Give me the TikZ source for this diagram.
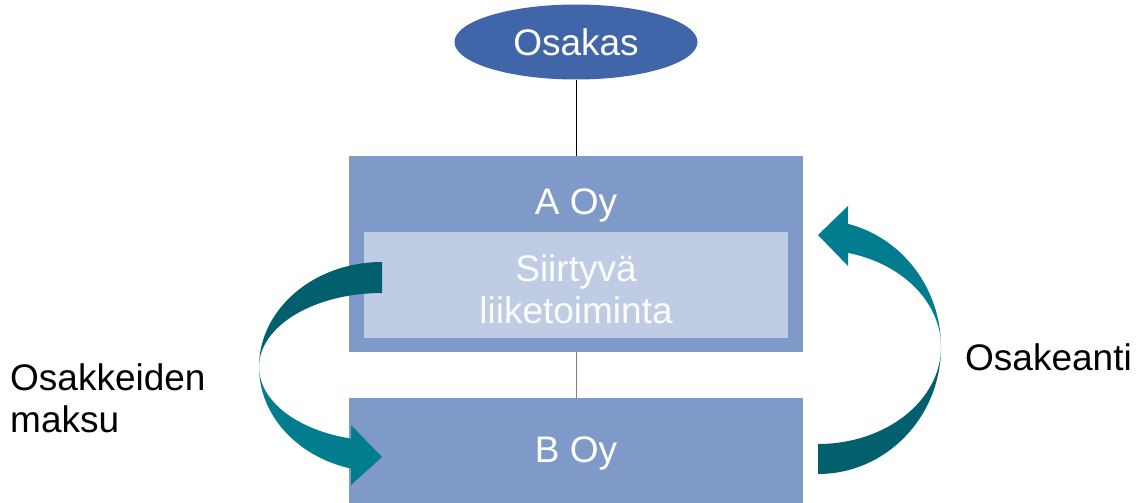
\documentclass[tikz,border=0pt]{standalone}
\usepackage{fontspec}
\setmainfont{Liberation Sans}
\usetikzlibrary{shapes.geometric}
\definecolor{ovalblue}{HTML}{4065A8}
\definecolor{boxblue}{HTML}{7F9AC8}
\definecolor{paleblue}{HTML}{BFCCE4}
\definecolor{tealdark}{HTML}{02606E}
\definecolor{teallight}{HTML}{027D8F}
\tikzset{
  bigtext/.style={font=\fontsize{37}{42}\selectfont},
  company/.style={fill=boxblue, draw=none, inner sep=0pt},
  boxtext/.style={bigtext, text=white, inner sep=0pt},
  sidetext/.style={bigtext, text=black, inner sep=0pt, align=left},
  link/.style={line width=0.9pt},
}
\begin{document}
\begin{tikzpicture}[x=1pt, y=-1pt]
\useasboundingbox (0,0) rectangle (1138,503);

% owner
\node[ellipse, fill=ovalblue, minimum width=243pt, minimum height=75pt, inner sep=0pt,
      bigtext, text=white] (osakas) at (576,42) {Osakas};

% companies
\node[company, minimum width=454pt, minimum height=196pt] (aoy) at (576,254) {};
\node[company, minimum width=454pt, minimum height=105pt] (boy) at (576,450.5) {};
\node[fill=paleblue, inner sep=0pt, minimum width=424pt, minimum height=106pt] (siirto) at (576,285) {};

% ownership lines
\draw[link, black] (osakas.south) -- (aoy.north);
\draw[link, gray] (aoy.south) -- (boy.north);

% box texts
\node[boxtext] (aoytext) at (576,205) {A Oy};
\node[boxtext, text=white!95!paleblue, align=center] (siirtotext) at (576,289)
  {Siirtyvä\\liiketoiminta};
\node[boxtext] (boytext) at (576,453) {B Oy};

% side labels
\node[sidetext, anchor=west] (maksu) at (10,398) {Osakkeiden\\maksu};
\node[sidetext, anchor=west] (anti) at (965,357) {Osakeanti};

% left curved arrow: tail from the transferring business down to B Oy
\fill[tealdark] (382,262)
  arc[start angle=90, end angle=180, x radius=123pt, y radius=105pt]
  arc[start angle=180, end angle=90, x radius=123pt, y radius=74pt] -- cycle;
\fill[teallight] (259,367)
  arc[start angle=180, end angle=255.4, x radius=123pt, y radius=105pt]
  -- (351,485) -- (382,457) -- (351,425) -- (351,438.6)
  arc[start angle=255.4, end angle=180, x radius=123pt, y radius=74pt] -- cycle;

% right curved arrow: from B Oy up to A Oy
\fill[tealdark] (941,347)
  arc[start angle=0, end angle=-90, x radius=123pt, y radius=127pt]
  -- (818,444)
  arc[start angle=-90, end angle=0, x radius=123pt, y radius=97pt] -- cycle;
\fill[teallight] (941,347)
  arc[start angle=0, end angle=75.9, x radius=123pt, y radius=127pt]
  -- (848,206) -- (818,235) -- (848,266) -- (848,252.9)
  arc[start angle=75.9, end angle=0, x radius=123pt, y radius=97pt] -- cycle;
\end{tikzpicture}
\end{document}
